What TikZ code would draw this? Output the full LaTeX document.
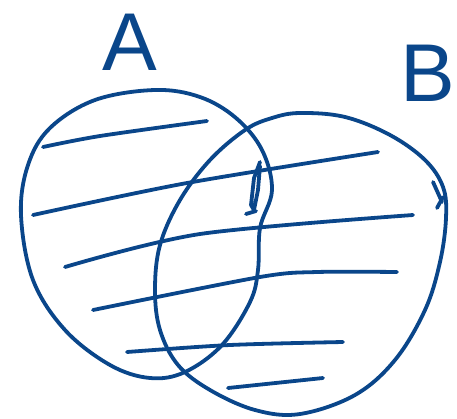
\documentclass[tikz,border=0pt]{standalone}
\usepackage{fontspec}
\setsansfont{Liberation Sans}
\usetikzlibrary{positioning}

\definecolor{penBlue}{RGB}{10,70,138}

\begin{document}
\begin{tikzpicture}[
        x=1pt, y=-1pt,
        stroke/.style={
            draw=penBlue,
            line width=3.8pt,
            line cap=round,
            line join=round
        },
        hatch/.style={
            stroke
        },
        setLabel/.style={
            text=penBlue,
            font=\sffamily\fontsize{82}{82}\selectfont,
            inner sep=0pt
        }
    ]

        \useasboundingbox (0,0) rectangle (457,418);

        % Set labels
        \node[setLabel] (labelA) at (130,42) {A};
        \node[setLabel] (labelB) at (428,73) {B};

        % Set A outline
        \draw[stroke] plot[smooth cycle, tension=0.6] coordinates {
            (155,90) (200,97) (236,118) (262,150) (272,190) (260,228)
            (258,270) (250,302) (222,345) (185,372) (150,378) (110,365)
            (65,330) (33,280) (21,215) (28,165) (50,128) (95,100)
        };

        % Set B outline
        \draw[stroke] plot[smooth cycle, tension=0.6] coordinates {
            (300,113) (345,117) (390,135) (425,160) (443,187) (446,218)
            (440,262) (425,310) (395,360) (355,395) (300,414) (255,410)
            (210,390) (178,365) (160,330) (155,290) (160,245) (180,200)
            (210,160) (245,130) (272,118)
        };

        % Hatching
        \draw[hatch] plot[smooth] coordinates {(43,147) (100,136) (207,121)};
        \draw[hatch] plot[smooth] coordinates {(33,215) (187,183) (378,152)};
        \draw[hatch] plot[smooth] coordinates {(65,267) (200,234) (413,215)};
        \draw[hatch] plot[smooth] coordinates {(93,310) (260,277) (317,272) (397,272)};
        \draw[hatch] plot[smooth] coordinates {(127,352) (230,345) (343,342)};
        \draw[hatch] (228,388) -- (323,378);

        % Scribbles
        \draw[stroke] (260,162) -- (254,178) -- (251,205) -- (254,210)
            -- (258,190) -- (260,166);
        \draw[stroke] (246,214) -- (256,211);
        \draw[stroke] (433,182) -- (442,202);
        \draw[stroke] (437,208) -- (443,197);

    \end{tikzpicture}
\end{document}
